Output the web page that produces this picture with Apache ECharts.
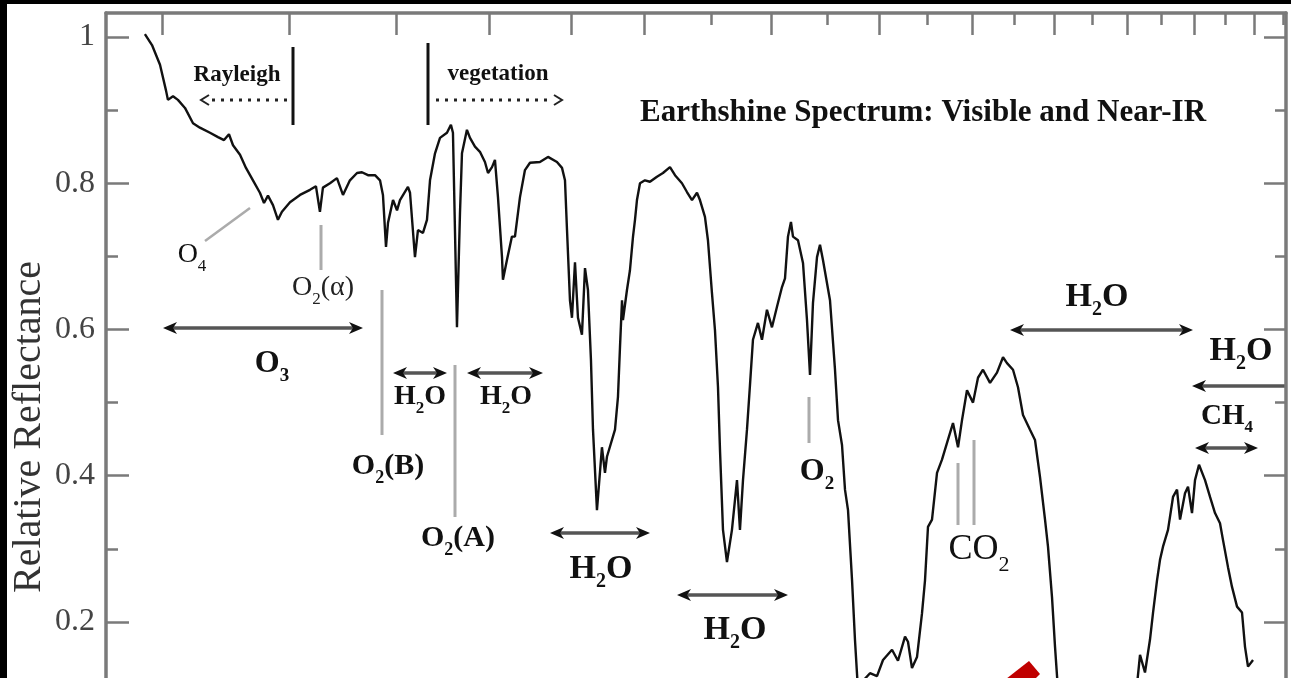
<!DOCTYPE html>
<html>
<head>
<meta charset="utf-8">
<script src="https://cdn.jsdelivr.net/npm/echarts@6/dist/echarts.min.js"></script>
<style>
html, body { margin: 0; padding: 0; background: #000; width: 1291px; height: 678px; overflow: hidden; }
#chart { position: absolute; left: 7px; top: 4px; width: 1284px; height: 674px; background: #fff; }
</style>
</head>
<body>
<div id="chart"></div>
<script>
// Earthshine spectrum, wavelength in micron
var wavelength = [
    0.4879, 0.4929, 0.4986, 0.5029, 0.5043, 0.5080, 0.5116, 0.5168, 0.5228, 0.5280,
    0.5357, 0.5419, 0.5466, 0.5505, 0.5537, 0.5593, 0.5641, 0.5698, 0.5755, 0.5789,
    0.5822, 0.5864, 0.5906, 0.5940, 0.6009, 0.6096, 0.6184, 0.6237, 0.6273, 0.6300,
    0.6364, 0.6428, 0.6484, 0.6549, 0.6616, 0.6663, 0.6721, 0.6789, 0.6838, 0.6867,
    0.6897, 0.6917, 0.6967, 0.7007, 0.7037, 0.7118, 0.7139, 0.7190, 0.7221, 0.7273,
    0.7315, 0.7347, 0.7400, 0.7453, 0.7528, 0.7571, 0.7593, 0.7637, 0.7670, 0.7692,
    0.7747, 0.7781, 0.7837, 0.7893, 0.7950, 0.7985, 0.8031, 0.8065, 0.8100, 0.8147,
    0.8158, 0.8205, 0.8264, 0.8300, 0.8360, 0.8420, 0.8481, 0.8603, 0.8703, 0.8816,
    0.8880, 0.8918, 0.8944, 0.8982, 0.9008, 0.9047, 0.9086, 0.9138, 0.9178, 0.9217,
    0.9257, 0.9284, 0.9337, 0.9404, 0.9445, 0.9472, 0.9582, 0.9623, 0.9651, 0.9679,
    0.9692, 0.9748, 0.9790, 0.9833, 0.9861, 0.9889, 0.9932, 1.0003, 1.0075, 1.0177,
    1.0265, 1.0369, 1.0444, 1.0549, 1.0625, 1.0702, 1.0779, 1.0825, 1.0903, 1.0950,
    1.1013, 1.1061, 1.1109, 1.1141, 1.1189, 1.1253, 1.1334, 1.1416, 1.1465, 1.1515,
    1.1581, 1.1631, 1.1681, 1.1765, 1.1833, 1.1918, 1.2004, 1.2091, 1.2178, 1.2231,
    1.2283, 1.2336, 1.2372, 1.2461, 1.2551, 1.2623, 1.2678, 1.2732, 1.2806, 1.2861,
    1.2916, 1.3047, 1.3141, 1.3198, 1.3274, 1.3331, 1.3389, 1.3466, 1.3524, 1.3582,
    1.3700, 1.3818, 1.3958, 1.4079, 1.4262, 1.4385, 1.4531, 1.4593, 1.4677, 1.4783,
    1.4890, 1.4954, 1.5018, 1.5105, 1.5214, 1.5323, 1.5434, 1.5567, 1.5680, 1.5770,
    1.5883, 1.6021, 1.6136, 1.6252, 1.6417, 1.6582, 1.6726, 1.6822, 1.6968, 1.7090,
    1.7213, 1.7387, 1.7512, 1.7639, 1.7766, 1.7842, 1.7945, 1.8023, 1.8100, 1.8283,
    1.9225, 2.0129, 2.0274, 2.0362, 2.0508, 2.0656, 2.0745, 2.0865, 2.0955, 2.1045,
    2.1197, 2.1350, 2.1473, 2.1566, 2.1721, 2.1815, 2.1940, 2.2035, 2.2162, 2.2354,
    2.2515, 2.2677, 2.2840, 2.2939, 2.3104, 2.3237, 2.3405, 2.3573, 2.3675, 2.3777,
    2.3949
];
var reflectance = [
    1.004, 0.989, 0.962, 0.927, 0.914, 0.919, 0.914, 0.903, 0.882, 0.876,
    0.869, 0.863, 0.859, 0.867, 0.852, 0.839, 0.821, 0.804, 0.787, 0.773,
    0.783, 0.770, 0.750, 0.761, 0.774, 0.784, 0.791, 0.796, 0.761, 0.794,
    0.800, 0.807, 0.784, 0.804, 0.814, 0.815, 0.811, 0.811, 0.804, 0.784,
    0.713, 0.746, 0.777, 0.763, 0.777, 0.795, 0.787, 0.699, 0.736, 0.732,
    0.750, 0.804, 0.841, 0.862, 0.869, 0.880, 0.869, 0.603, 0.759, 0.841,
    0.873, 0.862, 0.850, 0.843, 0.829, 0.814, 0.822, 0.832, 0.781, 0.699,
    0.668, 0.695, 0.727, 0.727, 0.781, 0.818, 0.828, 0.829, 0.836, 0.829,
    0.821, 0.804, 0.736, 0.640, 0.616, 0.692, 0.616, 0.593, 0.684, 0.654,
    0.558, 0.463, 0.353, 0.439, 0.404, 0.426, 0.463, 0.508, 0.576, 0.640,
    0.613, 0.654, 0.681, 0.727, 0.750, 0.777, 0.800, 0.804, 0.802, 0.809,
    0.814, 0.822, 0.811, 0.800, 0.788, 0.777, 0.787, 0.777, 0.754, 0.722,
    0.650, 0.599, 0.521, 0.435, 0.326, 0.282, 0.326, 0.394, 0.326, 0.394,
    0.463, 0.524, 0.586, 0.609, 0.586, 0.627, 0.603, 0.631, 0.658, 0.670,
    0.727, 0.747, 0.727, 0.722, 0.691, 0.613, 0.538, 0.636, 0.699, 0.716,
    0.695, 0.640, 0.545, 0.476, 0.442, 0.381, 0.353, 0.258, 0.175, 0.107,
    0.121, 0.130, 0.126, 0.148, 0.162, 0.147, 0.180, 0.173, 0.137, 0.152,
    0.212, 0.257, 0.330, 0.340, 0.404, 0.422, 0.445, 0.472, 0.439, 0.476,
    0.517, 0.500, 0.534, 0.545, 0.527, 0.541, 0.562, 0.554, 0.545, 0.521,
    0.483, 0.463, 0.449, 0.398, 0.340, 0.303, 0.234, 0.166, 0.107, 0.052,
    0.025, 0.052, 0.114, 0.155, 0.131, 0.176, 0.212, 0.257, 0.285, 0.303,
    0.326, 0.371, 0.381, 0.340, 0.376, 0.385, 0.349, 0.394, 0.415, 0.394,
    0.371, 0.349, 0.335, 0.312, 0.275, 0.248, 0.221, 0.213, 0.166, 0.139,
    0.148
];

var yMajorTicks = [0.2, 0.4, 0.6, 0.8, 1.0];
var yMinorTicks = [0.1, 0.3, 0.5, 0.7, 0.9];
var xLongTicks = [0.5, 0.6, 0.7, 0.8, 0.9, 1.0, 1.2, 1.4, 1.6, 1.8, 2.0, 2.2, 2.4];
var xShortTicks = [1.1, 1.3, 1.5, 1.7, 1.9, 2.1, 2.3, 2.5];

var X_MIN = 0.4614, X_MAX = 2.511;
var Y_MIN = 0, Y_MAX = 1.0328;

var OX = 7, OY = 4; // chart div offset inside the black frame
var SERIF = "'Liberation Serif', 'Times New Roman', serif";
var axisGray = '#7a7a7a';

var chartDom = document.getElementById('chart');
var myChart = echarts.init(chartDom);
var option;

// ---- annotations (page pixel positions) ----
var graphics = [];

function seg(x1, y1, x2, y2, color, w, dash) {
    graphics.push({
        type: 'line', silent: true,
        shape: { x1: x1 - OX, y1: y1 - OY, x2: x2 - OX, y2: y2 - OY },
        style: { stroke: color, lineWidth: w, lineDash: dash || null }
    });
}
function head(x, y, dir) {
    var px = x - OX, py = y - OY;
    graphics.push({
        type: 'polygon', silent: true,
        shape: { points: [[px, py], [px - dir * 14, py - 6], [px - dir * 10, py], [px - dir * 14, py + 6]] },
        style: { fill: '#111' }
    });
}
function arrow(x1, x2, y, left, right) {
    seg(x1 + 5, y, x2 - 5, y, '#555', 3.5);
    if (left) head(x1, y, -1);
    if (right) head(x2, y, 1);
}
function chevron(x, y, dir) {
    graphics.push({
        type: 'polyline', silent: true,
        shape: { points: [[x - OX - dir * 8, y - OY - 5], [x - OX, y - OY], [x - OX - dir * 8, y - OY + 5]] },
        style: { stroke: '#222', lineWidth: 2, fill: null }
    });
}
// text with "_x" as subscript, placed by the centre of its capitals
function label(str, cx, cy, size, bold, color) {
    var txt = '';
    for (var i = 0; i < str.length; i++) {
        if (str[i] === '_') { txt += '{s|' + str[i + 1] + '}'; i++; }
        else { txt += '{n|' + str[i] + '}'; }
    }
    var w = bold ? 'bold' : 'normal';
    var c = color || '#111';
    graphics.push({
        type: 'text', silent: true,
        x: cx - OX, y: cy - size / 2 - OY,
        style: {
            text: txt, align: 'center', verticalAlign: 'top', textAlign: 'center', textVerticalAlign: 'top',
            rich: {
                n: { fontSize: size, lineHeight: size, fontFamily: SERIF, fontWeight: w, fill: c, color: c, verticalAlign: 'top' },
                s: { fontSize: Math.round(size * 0.6), lineHeight: Math.round(size * 0.6), padding: [Math.round(size * 0.6), 0, 0, 0],
                     fontFamily: SERIF, fontWeight: w, fill: c, color: c, verticalAlign: 'top' }
            }
        }
    });
}
function plain(str, x, y, size, bold, align, color, rot) {
    graphics.push({
        type: 'text', silent: true,
        x: x - OX, y: y - OY, rotation: rot || 0,
        style: {
            text: str, fontSize: size, fontFamily: SERIF, fontWeight: bold ? 'bold' : 'normal',
            fill: color || '#111', align: align || 'center', verticalAlign: 'middle',
            textAlign: align || 'center', textVerticalAlign: 'middle'
        }
    });
}

// Rayleigh / vegetation markers
seg(293, 47, 293, 125, '#111', 3);
seg(212, 100, 288, 100, '#222', 3, [3, 6]);
chevron(201, 100, -1);
plain('Rayleigh', 237, 75, 23, true);
seg(428, 43, 428, 125, '#111', 3);
seg(436, 100, 553, 100, '#222', 3, [3, 6]);
chevron(562, 100, 1);
plain('vegetation', 498, 74, 23, true);
plain('Earthshine Spectrum: Visible and Near-IR', 640, 113, 31, true, 'left');

// axis name
plain('Relative Reflectance', 29, 427, 40, false, 'center', '#333', Math.PI / 2);

// gray leader lines
var lead = '#ababab';
seg(205, 241, 250, 208, lead, 2.5);
seg(321, 225, 321, 270, lead, 3);
seg(382, 290, 382, 435, lead, 3);
seg(455, 365, 455, 517, lead, 3);
seg(809, 397, 809, 443, lead, 3);
seg(958, 463, 958, 525, lead, 3);
seg(974, 440, 974, 525, lead, 3);

// band arrows
arrow(163, 363, 328, true, true);
arrow(393, 447, 373, true, true);
arrow(467, 543, 373, true, true);
arrow(550, 650, 533, true, true);
arrow(677, 788, 595, true, true);
arrow(1010, 1193, 330, true, true);
arrow(1192, 1290, 386, true, false);
arrow(1195, 1258, 448, true, true);

// molecule labels
label('O_4', 192, 255, 28, false);
label('O_2(α)', 323, 288, 28, false, '#222');
label('O_3', 272, 364, 32, true);
label('H_2O', 420, 397, 28, true);
label('H_2O', 506, 397, 28, true);
label('O_2(B)', 388, 466, 30, true);
label('O_2(A)', 458, 538, 30, true);
label('H_2O', 601, 569, 34, true);
label('H_2O', 735, 630, 34, true);
label('O_2', 817, 472, 32, true);
label('CO_2', 979, 550, 36, false);
label('H_2O', 1097, 297, 34, true);
label('H_2O', 1241, 351, 34, true);
label('CH_4', 1227, 417, 29, true);

// red marker tip at the bottom edge
graphics.push({
    type: 'polygon', silent: true,
    shape: { points: [[1006 - OX, 679 - OY], [1029 - OX, 661 - OY], [1040 - OX, 674 - OY], [1035 - OX, 679 - OY]] },
    style: { fill: '#c00000' }
});

// top wavelength ticks sit on a linear axis in log10(micron), same span as the log axis
function topAxis(grid, ticks, len, showLine) {
    return {
        type: 'value', gridIndex: grid, position: 'top',
        min: Math.log10(X_MIN), max: Math.log10(X_MAX),
        axisLine: { show: showLine, onZero: false, lineStyle: { color: axisGray, width: 3.5 } },
        axisTick: { show: true, inside: true, length: len, customValues: ticks.map(Math.log10), lineStyle: { color: axisGray, width: 2.5 } },
        axisLabel: { show: false }, splitLine: { show: false }, minorTick: { show: false }
    };
}
function bottomAxis(grid) {
    return {
        type: 'log', gridIndex: grid, position: 'bottom', min: X_MIN, max: X_MAX,
        axisLine: { show: false, onZero: false }, axisTick: { show: false },
        axisLabel: { show: false }, splitLine: { show: false }
    };
}
function sideAxis(grid, pos, ticks, len, showLine, showLabel) {
    return {
        type: 'value', gridIndex: grid, position: pos, min: Y_MIN, max: Y_MAX,
        axisLine: { show: showLine, onZero: false, lineStyle: { color: axisGray, width: 3.5 } },
        axisTick: { show: true, inside: true, length: len, customValues: ticks, lineStyle: { color: axisGray, width: 2.5 } },
        axisLabel: {
            show: showLabel, customValues: ticks, margin: 11,
            fontSize: 32, fontFamily: SERIF, color: '#444',
            formatter: function (v) { return v === 1 ? '1' : v.toFixed(1); }
        },
        splitLine: { show: false }, minorTick: { show: false }
    };
}

var gridBox = { left: 99, right: 5, top: 9, bottom: -90.25, outerBoundsMode: 'none' };

var points = wavelength.map(function (w, i) { return [w, reflectance[i]]; });

option = {
    animation: false,
    backgroundColor: '#fff',
    grid: [gridBox, Object.assign({}, gridBox)],
    xAxis: [
        bottomAxis(0),
        topAxis(0, xLongTicks, 22, true),
        bottomAxis(1),
        topAxis(1, xShortTicks, 12, false)
    ],
    yAxis: [
        sideAxis(0, 'left', yMajorTicks, 23, true, true),
        sideAxis(0, 'right', yMajorTicks, 22, true, false),
        sideAxis(1, 'left', yMinorTicks, 12, false, false),
        sideAxis(1, 'right', yMinorTicks, 11, false, false)
    ],
    series: [
        {
            name: 'Earthshine',
            type: 'line',
            xAxisIndex: 0,
            yAxisIndex: 0,
            data: points,
            showSymbol: false,
            symbol: 'none',
            lineStyle: { color: '#111', width: 2.4 }
        }
    ],
    graphic: graphics
};

option && myChart.setOption(option);
</script>
</body>
</html>
